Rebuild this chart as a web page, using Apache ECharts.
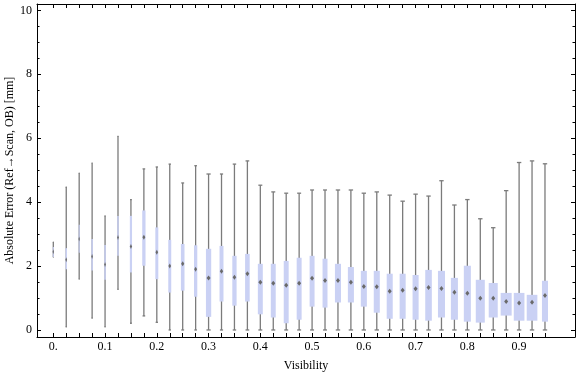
<!DOCTYPE html>
<html>
<head>
<meta charset="utf-8">
<script src="https://cdn.jsdelivr.net/npm/echarts@6/dist/echarts.min.js"></script>
<style>
  html, body { margin: 0; padding: 0; background: #fff; }
  #chart { width: 576px; height: 377px; }
</style>
</head>
<body>
<div id="chart"></div>
<script>
// visibility bins (one box per bin)
var visibility = [0, 0.025, 0.05, 0.075, 0.1, 0.125, 0.15, 0.175, 0.2, 0.225, 0.25, 0.275, 0.3,
    0.325, 0.35, 0.375, 0.4, 0.425, 0.45, 0.475, 0.5, 0.525, 0.55, 0.575, 0.6, 0.625, 0.65,
    0.675, 0.7, 0.725, 0.75, 0.775, 0.8, 0.825, 0.85, 0.875, 0.9, 0.925, 0.95];

// box whisker stats, absolute error [mm]
var whiskerLow = [2.28, 0.10, 1.59, 0.37, 0.10, 1.27, 0.21, 0.44, 0.24, 0, 0, 0, 0,
    0, 0, 0, 0, 0, 0, 0, 0, 0, 0, 0, 0, 0, 0,
    0, 0, 0, 0, 0, 0, 0, 0, 0, 0, 0, 0];
var quart1 = [2.28, 1.90, 2.42, 1.86, 1.57, 2.32, 1.80, 2.01, 1.59, 1.17, 1.23, 1.04, 0.41,
    0.89, 0.76, 0.89, 0.49, 0.39, 0.21, 0.32, 0.73, 0.70, 0.86, 0.86, 0.73, 0.54, 0.35,
    0.35, 0.32, 0.29, 0.39, 0.32, 0.26, 0.23, 0.39, 0.45, 0.29, 0.29, 0.26];
var median = [2.45, 2.20, 2.85, 2.30, 2.05, 2.89, 2.61, 2.90, 2.43, 2.00, 2.07, 1.90, 1.63,
    1.84, 1.65, 1.76, 1.49, 1.46, 1.40, 1.46, 1.62, 1.55, 1.55, 1.49, 1.36, 1.35, 1.21,
    1.24, 1.29, 1.33, 1.30, 1.18, 1.15, 0.99, 0.99, 0.89, 0.84, 0.87, 1.08];
var quart3 = [2.60, 2.56, 3.29, 2.85, 2.66, 3.57, 3.57, 3.74, 3.21, 2.82, 2.69, 2.65, 2.54,
    2.63, 2.32, 2.38, 2.07, 2.07, 2.16, 2.26, 2.32, 2.23, 2.07, 1.97, 1.85, 1.85, 1.76,
    1.76, 1.72, 1.88, 1.85, 1.63, 2.01, 1.57, 1.47, 1.16, 1.16, 1.10, 1.54];
var whiskerHigh = [2.75, 4.47, 4.91, 5.22, 3.57, 6.06, 4.08, 5.04, 5.10, 5.19, 4.60, 5.14, 4.88,
    4.88, 5.19, 5.29, 4.53, 4.32, 4.28, 4.28, 4.38, 4.38, 4.38, 4.38, 4.28, 4.32, 4.22,
    4.03, 4.25, 4.19, 4.67, 3.91, 4.08, 3.48, 3.20, 4.36, 5.24, 5.29, 5.20];
// relative box size (sample weight, widest box = 1)
var relSize = [0.1, 0.14, 0.1, 0.14, 0.14, 0.14, 0.2, 0.3, 0.27, 0.27, 0.33, 0.3, 0.48,
    0.36, 0.39, 0.42, 0.45, 0.45, 0.45, 0.45, 0.45, 0.45, 0.55, 0.55, 0.55, 0.55, 0.55,
    0.55, 0.55, 0.6, 0.64, 0.64, 0.64, 0.82, 0.82, 1.0, 0.97, 0.97, 0.55];

// tick labels
var xLabelValues = [0, 0.1, 0.2, 0.3, 0.4, 0.5, 0.6, 0.7, 0.8, 0.9];
var xLabelText = ['0.', '0.1', '0.2', '0.3', '0.4', '0.5', '0.6', '0.7', '0.8', '0.9'];
var yMajor = [0, 2, 4, 6, 8, 10];
var yMinor = [0, 0.5, 1, 1.5, 2, 2.5, 3, 3.5, 4, 4.5, 5, 5.5, 6, 6.5, 7, 7.5, 8, 8.5, 9, 9.5, 10];

var FONT = "'Liberation Serif', 'Times New Roman', serif";
var MAX_BOX_W = 11;

var boxData = [];
for (var i = 0; i < visibility.length; i++) {
    boxData.push([visibility[i], whiskerLow[i], quart1[i], median[i], quart3[i], whiskerHigh[i], relSize[i]]);
}

function renderBox(params, api) {
    var x = api.value(0);
    var pLow = api.coord([x, api.value(1)]);
    var pQ1 = api.coord([x, api.value(2)]);
    var pMed = api.coord([x, api.value(3)]);
    var pQ3 = api.coord([x, api.value(4)]);
    var pHigh = api.coord([x, api.value(5)]);
    var w = api.value(6) * MAX_BOX_W;
    var cx = pMed[0];
    var cap = Math.min(2.2, w * 0.4);
    var mk = Math.min(2, w * 0.35 + 0.3);
    var lineStyle = { stroke: '#7b7b7b', lineWidth: 1.3 };
    return {
        type: 'group',
        children: [
            { type: 'line', shape: { x1: cx, y1: pLow[1], x2: cx, y2: pHigh[1] }, style: lineStyle },
            { type: 'line', shape: { x1: cx - cap, y1: pLow[1], x2: cx + cap, y2: pLow[1] }, style: lineStyle },
            { type: 'line', shape: { x1: cx - cap, y1: pHigh[1], x2: cx + cap, y2: pHigh[1] }, style: lineStyle },
            { type: 'rect', shape: { x: cx - w / 2, y: pQ3[1], width: w, height: pQ1[1] - pQ3[1] },
              style: { fill: '#cad1f4' } },
            { type: 'polygon', shape: { points: [[cx - mk, pMed[1]], [cx, pMed[1] - 2.5], [cx + mk, pMed[1]], [cx, pMed[1] + 2.5]] },
              style: { fill: '#6a6a6a' } }
        ]
    };
}

var axisLineStyle = { show: true, onZero: false, lineStyle: { color: '#000', width: 1 } };

var option = {
    animation: false,
    backgroundColor: '#fff',
    grid: { left: 37, right: 1, top: 4, bottom: 40, containLabel: false, outerBoundsMode: 'none' },
    xAxis: [
        {
            type: 'value', position: 'bottom', min: -0.0315, max: 1.008,
            axisLine: axisLineStyle,
            axisTick: { show: true, inside: true, length: 4, customValues: visibility, lineStyle: { color: '#000' } },
            axisLabel: {
                customValues: xLabelValues, margin: 4, color: '#000', fontFamily: FONT, fontSize: 12,
                formatter: function (v) {
                    for (var k = 0; k < xLabelValues.length; k++) {
                        if (Math.abs(xLabelValues[k] - v) < 1e-6) return xLabelText[k];
                    }
                    return '';
                }
            },
            splitLine: { show: false },
            name: 'Visibility', nameLocation: 'middle', nameGap: 23, nameMoveOverlap: false,
            nameTextStyle: { color: '#000', fontFamily: FONT, fontSize: 12 }
        },
        {
            type: 'value', position: 'top', min: -0.0315, max: 1.008,
            axisLine: axisLineStyle,
            axisTick: { show: true, inside: true, length: 4, customValues: visibility, lineStyle: { color: '#000' } },
            axisLabel: { show: false },
            splitLine: { show: false }
        }
    ],
    yAxis: [
        {
            type: 'value', position: 'left', min: -0.22, max: 10.2,
            axisLine: axisLineStyle,
            axisTick: { show: true, inside: true, length: 4, customValues: yMajor, lineStyle: { color: '#000' } },
            axisLabel: { customValues: yMajor, margin: 5, color: '#000', fontFamily: FONT, fontSize: 12 },
            splitLine: { show: false },
            name: 'Absolute Error (Ref\u2192Scan, OB) [mm]', nameLocation: 'middle', nameGap: 21, nameMoveOverlap: false,
            nameTextStyle: { color: '#000', fontFamily: FONT, fontSize: 12 }
        },
        {
            type: 'value', position: 'left', min: -0.22, max: 10.2,
            axisLine: { show: false, onZero: false },
            axisTick: { show: true, inside: true, length: 2.5, customValues: yMinor, lineStyle: { color: '#000' } },
            axisLabel: { show: false },
            splitLine: { show: false }
        },
        {
            type: 'value', position: 'right', min: -0.22, max: 10.2,
            axisLine: axisLineStyle,
            axisTick: { show: true, inside: true, length: 4, customValues: yMajor, lineStyle: { color: '#000' } },
            axisLabel: { show: false },
            splitLine: { show: false }
        },
        {
            type: 'value', position: 'right', min: -0.22, max: 10.2,
            axisLine: { show: false, onZero: false },
            axisTick: { show: true, inside: true, length: 2.5, customValues: yMinor, lineStyle: { color: '#000' } },
            axisLabel: { show: false },
            splitLine: { show: false }
        }
    ],
    series: [
        {
            type: 'custom',
            xAxisIndex: 0,
            yAxisIndex: 0,
            renderItem: renderBox,
            encode: { x: 0, y: [1, 2, 3, 4, 5] },
            data: boxData
        }
    ]
};

var chart = echarts.init(document.getElementById('chart'), null, { renderer: 'canvas' });
chart.setOption(option);
</script>
</body>
</html>
